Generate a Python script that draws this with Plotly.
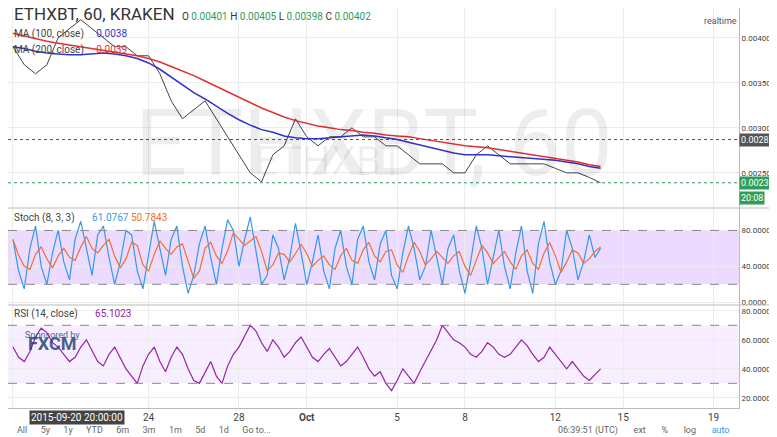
import plotly.graph_objects as go

# days after 2015-09-18 00:00, half-day steps
price_days = [i * 0.5 for i in range(53)]
close = [0.0039, 0.0037, 0.0036, 0.0037, 0.0040, 0.0041, 0.0042, 0.0041, 0.0040, 0.0039,
         0.0039, 0.0038, 0.0038, 0.0036, 0.0033, 0.0031, 0.0032, 0.0033, 0.0031, 0.0029,
         0.0027, 0.0025, 0.0024, 0.0027, 0.0028, 0.0031, 0.0029, 0.0028, 0.0029, 0.0029,
         0.0030, 0.0029, 0.0029, 0.0028, 0.0028, 0.0027, 0.0026, 0.0026, 0.0026, 0.0025,
         0.0025, 0.0027, 0.0028, 0.0027, 0.0026, 0.0026, 0.0026, 0.0026, 0.00255, 0.0025,
         0.0025, 0.00245, 0.00239]
ma100 = [0.00390, 0.00388, 0.00385, 0.00383, 0.00382, 0.00381, 0.00381, 0.00382, 0.00383, 0.00382,
         0.00380, 0.00377, 0.00372, 0.00365, 0.00356, 0.00347, 0.00339, 0.00332, 0.00324, 0.00316,
         0.00309, 0.00303, 0.00298, 0.00295, 0.00291, 0.00289, 0.00288, 0.00288, 0.00289, 0.00290,
         0.00291, 0.00292, 0.00291, 0.00289, 0.00287, 0.00284, 0.00281, 0.00278, 0.00275, 0.00272,
         0.00270, 0.00270, 0.00270, 0.00269, 0.00268, 0.00267, 0.00266, 0.00265, 0.00264, 0.00262,
         0.00260, 0.00257, 0.00255]
ma200 = [0.00405, 0.00402, 0.00399, 0.00396, 0.00394, 0.00392, 0.00390, 0.00388, 0.00386, 0.00384,
         0.00382, 0.00380, 0.00377, 0.00373, 0.00368, 0.00363, 0.00358, 0.00352, 0.00346, 0.00340,
         0.00334, 0.00328, 0.00322, 0.00317, 0.00312, 0.00308, 0.00305, 0.00302, 0.00300, 0.00298,
         0.00297, 0.00295, 0.00294, 0.00292, 0.00291, 0.00290, 0.00288, 0.00286, 0.00284, 0.00282,
         0.00280, 0.00279, 0.00278, 0.00276, 0.00274, 0.00272, 0.00270, 0.00268, 0.00266, 0.00264,
         0.00262, 0.00259, 0.00257]

# oscillators, quarter-day steps
osc_days = [i * 0.25 for i in range(105)]
stoch_k = [70, 35, 15, 60, 85, 40, 20, 55, 80, 45, 25, 70, 90, 60, 30, 75, 85, 50, 20, 45,
           80, 75, 35, 15, 55, 90, 60, 30, 70, 85, 40, 10, 30, 65, 85, 50, 20, 60, 92, 80,
           40, 70, 95, 55, 20, 30, 75, 60, 25, 50, 88, 55, 20, 45, 75, 35, 15, 60, 80, 40,
           20, 70, 85, 45, 25, 65, 80, 30, 15, 55, 85, 60, 25, 40, 80, 50, 20, 60, 75, 35,
           10, 45, 85, 60, 20, 50, 80, 40, 15, 55, 85, 35, 10, 65, 90, 45, 20, 35, 80, 60,
           25, 45, 75, 50, 60]
stoch_d = [stoch_k[max(0, i - 2):i + 1] for i in range(len(stoch_k))]
stoch_d = [sum(w) / len(w) for w in stoch_d]
rsi = [55, 48, 45, 52, 62, 68, 65, 58, 55, 50, 45, 48, 55, 60, 52, 45, 42, 50, 55, 48,
       40, 35, 30, 42, 50, 55, 45, 38, 48, 55, 50, 40, 32, 30, 38, 45, 35, 30, 42, 50,
       55, 62, 70, 66, 58, 52, 60, 55, 48, 52, 58, 62, 55, 48, 45, 50, 54, 48, 42, 45,
       50, 55, 48, 40, 35, 38, 30, 25, 32, 40, 35, 30, 38, 45, 52, 60, 70, 65, 60, 58,
       55, 50, 48, 52, 58, 55, 50, 48, 50, 55, 60, 56, 50, 45, 48, 55, 50, 45, 40, 45,
       40, 35, 32, 36, 40]

tick_days = [0, 6, 10, 13, 17, 20, 24, 27, 31]
tick_text = ["18", "24", "28", "<b>Oct</b>", "5", "8", "12", "15", "19"]

fig = go.Figure()
grid = "#ececec"
font = dict(family="Roboto, sans-serif", size=10, color="#555")
PW = 731  # plot width in px
PH = 400  # plot height in px

fig.add_annotation(text="ETHXBT, 60", x=0.5, y=0.80, xref="paper", yref="paper",
                   showarrow=False, font=dict(size=92, color="rgba(0,0,0,0.07)", family="Roboto"))
fig.add_annotation(text="ETHXBT", x=0.44, y=0.68, xref="paper", yref="paper",
                   showarrow=False, font=dict(size=40, color="rgba(0,0,0,0.06)", family="Roboto"))

fig.add_trace(go.Scatter(x=price_days, y=close, mode="lines", line=dict(color="#444", width=1),
                         xaxis="x", yaxis="y"))
fig.add_trace(go.Scatter(x=price_days, y=ma100, mode="lines", line=dict(color="#3333cc", width=1.5),
                         xaxis="x", yaxis="y"))
fig.add_trace(go.Scatter(x=price_days, y=ma200, mode="lines", line=dict(color="#e03030", width=1.5),
                         xaxis="x", yaxis="y"))
fig.add_trace(go.Scatter(x=osc_days, y=stoch_k, mode="lines", line=dict(color="#3399ee", width=1.2),
                         xaxis="x", yaxis="y2"))
fig.add_trace(go.Scatter(x=osc_days, y=stoch_d, mode="lines", line=dict(color="#f07030", width=1.2),
                         xaxis="x", yaxis="y2"))
fig.add_trace(go.Scatter(x=osc_days, y=rsi, mode="lines", line=dict(color="#9922aa", width=1.2),
                         xaxis="x", yaxis="y3"))

fig.add_shape(type="rect", xref="paper", x0=0, x1=1, yref="y2", y0=20, y1=80,
              fillcolor="rgba(153,51,255,0.18)", line_width=0, layer="below")
fig.add_shape(type="rect", xref="paper", x0=0, x1=1, yref="y3", y0=30, y1=70,
              fillcolor="rgba(153,51,255,0.08)", line_width=0, layer="below")
for yr, v in [("y2", 20), ("y2", 80), ("y3", 30), ("y3", 70)]:
    fig.add_shape(type="line", xref="paper", x0=0, x1=1, yref=yr, y0=v, y1=v,
                  line=dict(color="#888", width=1, dash="dash"))
for v, c in [(0.00287, "#555"), (0.00239, "#2e9e5b")]:
    fig.add_shape(type="line", xref="paper", x0=0, x1=1, yref="y", y0=v, y1=v,
                  line=dict(color=c, width=1, dash="dot"))
    fig.add_annotation(text=f"{v:.5f}", xref="paper", x=1.0, xanchor="left", yref="y", y=v,
                       showarrow=False, bgcolor=c, font=dict(color="white", size=9), borderpad=1)
fig.add_annotation(text="20:08", xref="paper", x=1.0, xanchor="left", yref="y", y=0.00222,
                   showarrow=False, bgcolor="#2e9e5b", font=dict(color="white", size=9))
for yy in [200, 297]:
    fig.add_shape(type="line", xref="paper", x0=0, x1=1.06, yref="paper",
                  y0=1 - yy / PH, y1=1 - yy / PH, line=dict(color="#bbb", width=1))

labels = [
    (4, 0.985, "<span style='font-size:17px;color:#333'>ETHXBT, 60, KRAKEN</span>   "
               "<span style='color:#333'>O</span> <span style='color:#2e9e5b'>0.00401</span> "
               "<span style='color:#333'>H</span> <span style='color:#2e9e5b'>0.00405</span> "
               "<span style='color:#333'>L</span> <span style='color:#2e9e5b'>0.00398</span> "
               "<span style='color:#333'>C</span> <span style='color:#2e9e5b'>0.00402</span>"),
    (4, 0.935, "MA (100, close)     <span style='color:#3333cc'>0.0038</span>"),
    (4, 0.895, "MA (200, close)     <span style='color:#e03030'>0.0039</span>"),
    (4, 0.475, "Stoch (8, 3, 3)       <span style='color:#3399ee'>61.0767</span> "
               "<span style='color:#f07030'>50.7843</span>"),
    (4, 0.235, "RSI (14, close)       <span style='color:#9922aa'>65.1023</span>"),
]
for px_x, py, t in labels:
    fig.add_annotation(text=t, xref="paper", x=px_x / PW, xanchor="left", yref="paper", y=py,
                       yanchor="middle", showarrow=False, font=dict(size=10, color="#444"))
fig.add_annotation(text="<span style='color:#1a3d6e'>Sponsored by</span><br><b style='font-size:18px'>FXCM</b>",
                   xref="paper", x=0.02, xanchor="left", yref="paper", y=0.13, showarrow=False,
                   font=dict(size=9, color="#1a3d6e"), opacity=0.8)
fig.add_annotation(text="realtime", xref="paper", x=1.0, xanchor="right", yref="paper", y=0.985,
                   showarrow=False, font=dict(size=9, color="#555"))
fig.add_annotation(text="2015-09-20 20:00:00", xref="x", x=2.83, yref="paper", y=-0.006,
                   yanchor="top", showarrow=False, bgcolor="#444", font=dict(size=10, color="white"))
fig.add_annotation(text="All      5y      1y      YTD      6m      3m      1m      5d      1d      Go to...",
                   xref="paper", x=0.01, xanchor="left", yref="paper", y=-22 / PH, yanchor="middle",
                   showarrow=False, font=dict(size=9, color="#666"))
fig.add_annotation(text="06:39:51 (UTC)       ext       %       log       <span style='color:#3399ee'>auto</span>",
                   xref="paper", x=0.99, xanchor="right", yref="paper", y=-22 / PH, yanchor="middle",
                   showarrow=False, font=dict(size=9, color="#666"))

ax = dict(showgrid=True, gridcolor=grid, zeroline=False, side="right", ticks="",
          tickfont=dict(size=8, color="#444"), showline=True, linecolor="#bbb",
          anchor="x")
fig.update_layout(
    width=777, height=437, margin=dict(l=0, r=777 - PW, t=0, b=437 - PH),
    paper_bgcolor="white", plot_bgcolor="white", showlegend=False, font=font,
    xaxis=dict(range=[-0.22, -0.22 + PW / 22.6], tickvals=tick_days, ticktext=tick_text,
               showgrid=True, anchor="y3",
               gridcolor=grid, zeroline=False, tickfont=dict(size=10, color="#444"),
               showline=True, linecolor="#bbb", ticks=""),
    yaxis=dict(ax, domain=[1 - 200 / PH, 1], range=[0.00211, 0.00433],
               tickvals=[0.0025, 0.003, 0.0035, 0.004], tickformat=".5f"),
    yaxis2=dict(ax, domain=[1 - 297 / PH, 1 - 200 / PH], range=[-3, 105], tickvals=[0, 40, 80],
                tickformat=".4f"),
    yaxis3=dict(ax, domain=[0, 1 - 297 / PH], range=[13, 84], tickvals=[20, 40, 60, 80],
                tickformat=".4f"),
)
fig.write_html("out.html")
